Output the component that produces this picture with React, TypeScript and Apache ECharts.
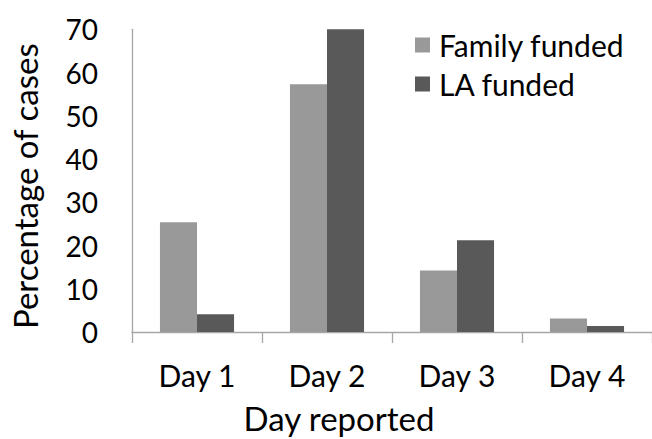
import React, { useEffect, useRef } from "react";
import * as echarts from "echarts";

const categories = ["Day 1", "Day 2", "Day 3", "Day 4"];
const familyFunded = [25.4, 57.3, 14.2, 3.1];
const laFunded = [4.1, 70, 21.2, 1.4];
const seriesNames = ["Family funded", "LA funded"];

const FONT = "Lato";

export default function App() {
  const ref = useRef<HTMLDivElement>(null);
  useEffect(() => {
    if (!ref.current) return;
    const chart = echarts.init(ref.current, null, { renderer: "svg" });
    chart.setOption({
      animation: false,
      backgroundColor: "#ffffff",
      textStyle: { fontFamily: FONT },
      grid: { left: 124.3, right: 0, top: 29.3, bottom: 103.3, containLabel: false },
      legend: {
        orient: "vertical",
        left: 410,
        top: 25,
        itemWidth: 15,
        itemHeight: 15,
        itemGap: 9,
        icon: "rect",
        data: seriesNames,
        textStyle: { fontFamily: FONT, fontSize: 30, color: "#000", lineHeight: 30, padding: [0, 0, 0, 4] },
      },
      xAxis: {
        type: "category",
        data: categories,
        name: "Day reported",
        nameLocation: "middle",
        nameGap: 69,
        nameTextStyle: { fontFamily: FONT, fontSize: 33, color: "#000", padding: [0, 106, 0, 0] },
        axisLine: { lineStyle: { color: "#a6a6a6", width: 1.3 } },
        axisTick: { show: true, length: 11, lineStyle: { color: "#a6a6a6", width: 1.3 } },
        axisLabel: { fontFamily: FONT, fontSize: 30, color: "#000", margin: 28 },
      },
      yAxis: {
        type: "value",
        min: 0,
        max: 70,
        interval: 10,
        name: "Percentage of cases",
        nameLocation: "middle",
        nameGap: 91,
        nameTextStyle: { fontFamily: FONT, fontSize: 33, color: "#000", padding: [0, 11, 0, 0] },
        splitLine: { show: false },
        axisLine: { show: true, lineStyle: { color: "#a6a6a6", width: 1.3 } },
        axisTick: { show: false },
        axisLabel: { fontFamily: FONT, fontSize: 28, color: "#000", margin: 34 },
      },
      series: [
        {
          name: seriesNames[0],
          type: "bar",
          data: familyFunded,
          itemStyle: { color: "#999999" },
          barGap: "0%",
          barCategoryGap: "43%",
        },
        {
          name: seriesNames[1],
          type: "bar",
          data: laFunded,
          itemStyle: { color: "#595959" },
          barGap: "0%",
          barCategoryGap: "43%",
        },
      ],
    });
    return () => chart.dispose();
  }, []);
  return <div ref={ref} style={{ width: 652, height: 439, position: "absolute", left: 0, top: 0 }} />;
}
